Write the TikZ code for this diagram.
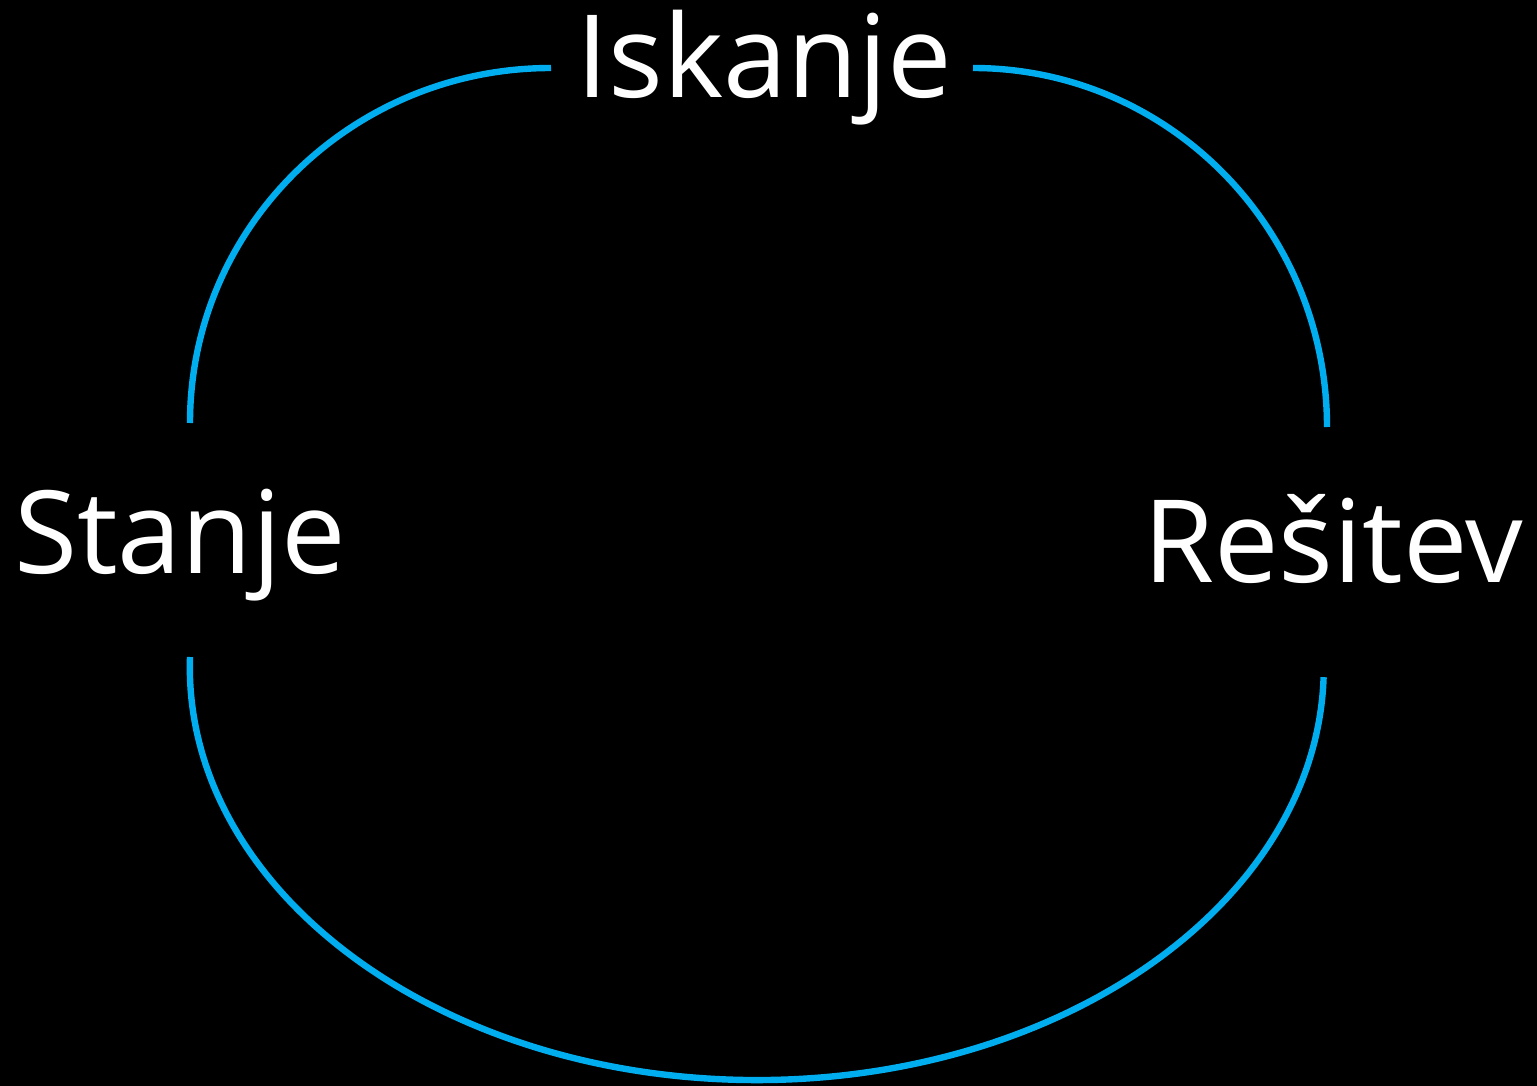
\documentclass[tikz,border=0pt]{standalone}
\usepackage{fontspec}
\setmainfont{Open Sans}
\definecolor{arcblue}{HTML}{00AEEF}
\begin{document}
\begin{tikzpicture}[x=0.5pt,y=-0.5pt,
  lbl/.style={text=white,font=\fontsize{57.5}{63}\selectfont,anchor=base,inner sep=0pt},
  link/.style={draw=arcblue,line width=3.2pt}]
\fill[black] (0,0) rectangle (1537,1086);
\useasboundingbox (0,0) rectangle (1537,1086);
\node[lbl] (isk) at (764,98) {Iskanje};
\node[lbl] (sta) at (180,573) {Stanje};
\node[lbl] (res) at (1333,582) {Rešitev};
\coordinate (stTop) at (190,423);
\coordinate (stBot) at (190,657);
\coordinate (isL) at (551,68);
\coordinate (isR) at (973,68);
\coordinate (reTop) at (1327,427);
\coordinate (reBot) at (1323.6,677.2);
\draw[link] (stTop) arc[start angle=180,end angle=270,x radius=361,y radius=355];
\draw[link] (isR) arc[start angle=270,end angle=360,x radius=354,y radius=359];
\draw[link] (stBot) arc[start angle=181.4,end angle=1.4,x radius=567,y radius=413];
\end{tikzpicture}
\end{document}
